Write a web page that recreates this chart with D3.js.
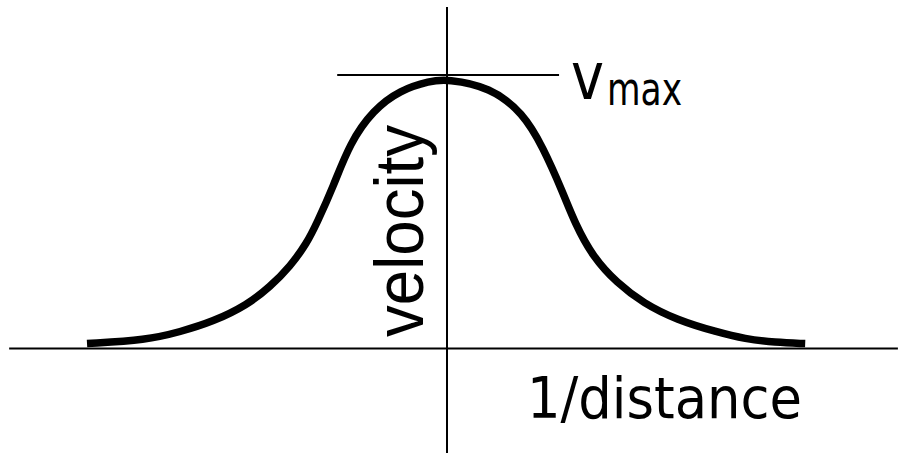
<!DOCTYPE html>
<html>
<head>
<meta charset="utf-8">
<script src="https://cdn.jsdelivr.net/npm/d3@7"></script>
<style>
  html, body { margin: 0; padding: 0; background: #fff; }
  svg { display: block; }
</style>
</head>
<body>
<svg id="chart" width="899" height="455" viewBox="0 0 899 455"></svg>
<script>
// curve points, x in 1/distance units (0 = vertical axis), v as fraction of vmax
const curveX = [-0.8, -0.667, -0.593, -0.52, -0.444, -0.393, -0.349, -0.311, -0.289, -0.253, -0.216, -0.164, -0.104, -0.038, 0,
  0.096, 0.169, 0.213, 0.258, 0.284, 0.324, 0.378, 0.436, 0.511, 0.6, 0.662, 0.729, 0.796];
const curveV = [0.018, 0.031, 0.061, 0.098, 0.159, 0.226, 0.299, 0.386, 0.459, 0.591, 0.751, 0.872, 0.945, 0.978, 0.985,
  0.956, 0.861, 0.737, 0.569, 0.459, 0.335, 0.239, 0.166, 0.104, 0.06, 0.035, 0.022, 0.018];

// axis and reference line extents
const xAxisExtent = [-0.973, 1.002];
const yAxisExtent = [-0.382, 1.249];
const vmaxLevel = 1;
const vmaxExtent = [-0.244, 0.249];

// labels
const xLabel = '1/distance';
const yLabel = 'velocity';
const peakLabel = 'v';
const peakSub = 'max';

const svg = d3.select('#chart');

const x = d3.scaleLinear().domain([-1, 1]).range([-3, 897]);
const y = d3.scaleLinear().domain([0, 1]).range([348.5, 75]);

const data = curveX.map((d, i) => ({ x: d, v: curveV[i] }));

// axes
svg.append('line')
  .attr('x1', x(xAxisExtent[0])).attr('x2', x(xAxisExtent[1]))
  .attr('y1', y(0)).attr('y2', y(0))
  .attr('stroke', '#000').attr('stroke-width', 2.2);

svg.append('line')
  .attr('x1', x(0)).attr('x2', x(0))
  .attr('y1', y(yAxisExtent[0])).attr('y2', y(yAxisExtent[1]))
  .attr('stroke', '#000').attr('stroke-width', 2);

// vmax line
svg.append('line')
  .attr('x1', x(vmaxExtent[0])).attr('x2', x(vmaxExtent[1]))
  .attr('y1', y(vmaxLevel)).attr('y2', y(vmaxLevel))
  .attr('stroke', '#000').attr('stroke-width', 2);

// curve
const line = d3.line()
  .x(d => x(d.x))
  .y(d => y(d.v))
  .curve(d3.curveBasis);

svg.append('path')
  .datum(data)
  .attr('d', line)
  .attr('fill', 'none')
  .attr('stroke', '#000')
  .attr('stroke-width', 7.5)
  .attr('stroke-linecap', 'butt');

// labels
svg.append('text')
  .attr('x', 527).attr('y', 418)
  .attr('font-family', '"DejaVu Sans Condensed", "DejaVu Sans", sans-serif')
  .attr('font-size', 57)
  .attr('textLength', 275)
  .attr('lengthAdjust', 'spacingAndGlyphs')
  .text(xLabel);

svg.append('text')
  .attr('transform', 'translate(423,337) rotate(-90)')
  .attr('font-family', '"Liberation Sans", Arial, sans-serif')
  .attr('font-size', 68)
  .attr('textLength', 212)
  .attr('lengthAdjust', 'spacingAndGlyphs')
  .text(yLabel);

svg.append('text')
  .attr('x', 571).attr('y', 99)
  .attr('font-family', '"DejaVu Sans Condensed", "DejaVu Sans", sans-serif')
  .attr('font-size', 66)
  .attr('textLength', 33)
  .attr('lengthAdjust', 'spacingAndGlyphs')
  .text(peakLabel);

svg.append('text')
  .attr('x', 607).attr('y', 105)
  .attr('font-family', '"DejaVu Sans Condensed", "DejaVu Sans", sans-serif')
  .attr('font-size', 46)
  .attr('textLength', 75)
  .attr('lengthAdjust', 'spacingAndGlyphs')
  .text(peakSub);
</script>
</body>
</html>
